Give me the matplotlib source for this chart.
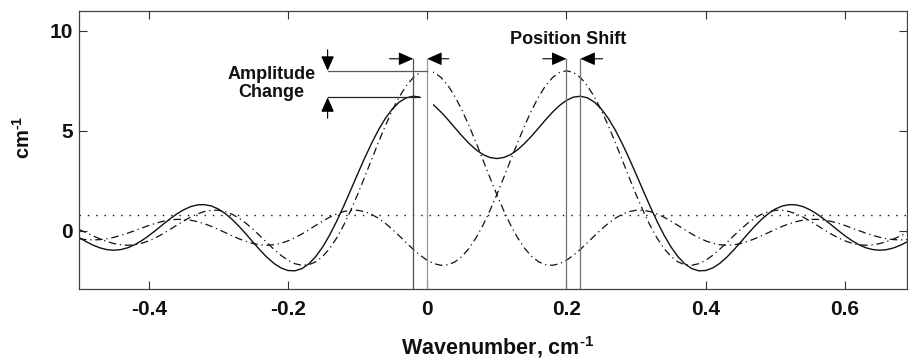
import matplotlib
matplotlib.use('Agg')
import matplotlib.pyplot as plt
from matplotlib.patches import Rectangle

plt.rcParams['font.family'] = ['Liberation Sans', 'DejaVu Sans']
plt.rcParams['font.weight'] = 'bold'
plt.rcParams['mathtext.fontset'] = 'custom'
plt.rcParams['mathtext.rm'] = 'Liberation Sans:bold'
plt.rcParams['mathtext.bf'] = 'Liberation Sans:bold'
plt.rcParams['mathtext.it'] = 'Liberation Sans:bold'
plt.rcParams['mathtext.default'] = 'bf'

# ---------------- data ----------------
wavenumber = [
    -0.50, -0.49, -0.48, -0.47, -0.46, -0.45, -0.44, -0.43, -0.42, -0.41,
    -0.40, -0.39, -0.38, -0.37, -0.36, -0.35, -0.34, -0.33, -0.32, -0.31,
    -0.30, -0.29, -0.28, -0.27, -0.26, -0.25, -0.24, -0.23, -0.22, -0.21,
    -0.20, -0.19, -0.18, -0.17, -0.16, -0.15, -0.14, -0.13, -0.12, -0.11,
    -0.10, -0.09, -0.08, -0.07, -0.06, -0.05, -0.04, -0.03, -0.02, -0.01,
    0.00, 0.01, 0.02, 0.03, 0.04, 0.05, 0.06, 0.07, 0.08, 0.09,
    0.10, 0.11, 0.12, 0.13, 0.14, 0.15, 0.16, 0.17, 0.18, 0.19,
    0.20, 0.21, 0.22, 0.23, 0.24, 0.25, 0.26, 0.27, 0.28, 0.29,
    0.30, 0.31, 0.32, 0.33, 0.34, 0.35, 0.36, 0.37, 0.38, 0.39,
    0.40, 0.41, 0.42, 0.43, 0.44, 0.45, 0.46, 0.47, 0.48, 0.49,
    0.50, 0.51, 0.52, 0.53, 0.54, 0.55, 0.56, 0.57, 0.58, 0.59,
    0.60, 0.61, 0.62, 0.63, 0.64, 0.65, 0.66, 0.67, 0.68, 0.69,
]

line_a = [  # component centred at 0
    0.064, -0.098, -0.259, -0.411, -0.543, -0.645, -0.709, -0.731, -0.705, -0.632,
    -0.514, -0.357, -0.167, 0.043, 0.263, 0.477, 0.673, 0.837, 0.955, 1.019,
    1.019, 0.952, 0.817, 0.619, 0.364, 0.064, -0.265, -0.605, -0.935, -1.234,
    -1.481, -1.653, -1.734, -1.707, -1.561, -1.289, -0.889, -0.368, 0.266, 0.997,
    1.804, 2.662, 3.544, 4.419, 5.256, 6.026, 6.699, 7.252, 7.662, 7.915,
    8.000, 7.915, 7.662, 7.252, 6.699, 6.026, 5.256, 4.419, 3.544, 2.662,
    1.804, 0.997, 0.266, -0.368, -0.889, -1.289, -1.561, -1.707, -1.734, -1.653,
    -1.481, -1.234, -0.935, -0.605, -0.265, 0.064, 0.364, 0.619, 0.817, 0.952,
    1.019, 1.019, 0.955, 0.837, 0.673, 0.477, 0.263, 0.043, -0.167, -0.357,
    -0.514, -0.632, -0.705, -0.731, -0.709, -0.645, -0.543, -0.411, -0.259, -0.098,
    0.064, 0.215, 0.347, 0.452, 0.525, 0.562, 0.563, 0.529, 0.462, 0.369,
    0.255, 0.130, 0.000, -0.126, -0.239, -0.335, -0.406, -0.450, -0.464, -0.448,
]

line_b = [  # component centred at 0.2
    -0.405, -0.448, -0.464, -0.450, -0.406, -0.335, -0.239, -0.126, 0.000, 0.130,
    0.255, 0.369, 0.462, 0.529, 0.563, 0.562, 0.525, 0.452, 0.347, 0.215,
    0.064, -0.098, -0.259, -0.411, -0.543, -0.645, -0.709, -0.731, -0.705, -0.632,
    -0.514, -0.357, -0.167, 0.043, 0.263, 0.477, 0.673, 0.837, 0.955, 1.019,
    1.019, 0.952, 0.817, 0.619, 0.364, 0.064, -0.265, -0.605, -0.935, -1.234,
    -1.481, -1.653, -1.734, -1.707, -1.561, -1.289, -0.889, -0.368, 0.266, 0.997,
    1.804, 2.662, 3.544, 4.419, 5.256, 6.026, 6.699, 7.252, 7.662, 7.915,
    8.000, 7.915, 7.662, 7.252, 6.699, 6.026, 5.256, 4.419, 3.544, 2.662,
    1.804, 0.997, 0.266, -0.368, -0.889, -1.289, -1.561, -1.707, -1.734, -1.653,
    -1.481, -1.234, -0.935, -0.605, -0.265, 0.064, 0.364, 0.619, 0.817, 0.952,
    1.019, 1.019, 0.955, 0.837, 0.673, 0.477, 0.263, 0.043, -0.167, -0.357,
    -0.514, -0.632, -0.705, -0.731, -0.709, -0.645, -0.543, -0.411, -0.259, -0.098,
]

combined = [  # observed (solid) curve
    -0.341, -0.546, -0.723, -0.861, -0.949, -0.980, -0.948, -0.857, -0.705, -0.502,
    -0.259, 0.012, 0.295, 0.572, 0.826, 1.039, 1.198, 1.289, 1.302, 1.234,
    1.083, 0.854, 0.558, 0.208, -0.179, -0.581, -0.974, -1.336, -1.640, -1.866,
    -1.995, -2.010, -1.901, -1.664, -1.298, -0.812, -0.216, 0.469, 1.221, 2.016,
    2.823, 3.614, 4.361, 5.038, 5.620, 6.090, 6.434, 6.647, 6.727, 6.681,
    6.519, 6.262, 5.928, 5.545, 5.138, 4.737, 4.367, 4.051, 3.810, 3.659,
    3.608, 3.659, 3.810, 4.051, 4.367, 4.737, 5.138, 5.545, 5.928, 6.262,
    6.519, 6.681, 6.727, 6.647, 6.434, 6.090, 5.620, 5.038, 4.361, 3.614,
    2.823, 2.016, 1.221, 0.469, -0.216, -0.812, -1.298, -1.664, -1.901, -2.010,
    -1.995, -1.866, -1.640, -1.336, -0.974, -0.581, -0.179, 0.208, 0.558, 0.854,
    1.083, 1.234, 1.302, 1.289, 1.198, 1.039, 0.826, 0.572, 0.295, 0.012,
    -0.259, -0.502, -0.705, -0.857, -0.948, -0.980, -0.949, -0.861, -0.723, -0.546,
]

threshold = 0.8
xticks = [-0.4, -0.2, 0.0, 0.2, 0.4, 0.6]
xtick_labels = ['-0.4', '-0.2', '0', '0.2', '0.4', '0.6']
yticks = [0, 5, 10]
ytick_labels = ['0', '5', '10']
true_positions = [0.0, 0.2]
measured_positions = [-0.02, 0.22]
true_amplitude = 8.0
measured_amplitude = 6.67

# ---------------- figure ----------------
fig = plt.figure(figsize=(9.08, 3.58), dpi=100)
ax = fig.add_axes([79 / 908, 69 / 358, 828 / 908, 278 / 358])
xmin, xmax, ymin, ymax = -0.5, 0.689, -2.92, 10.99
ax.set_xlim(xmin, xmax)
ax.set_ylim(ymin, ymax)

ink = '#111111'
ax.plot(wavenumber, combined, color=ink, lw=1.0, zorder=2)
ax.plot(wavenumber, line_a, color=ink, lw=0.9, dashes=(6, 3, 1, 3), zorder=2)
ax.plot(wavenumber, line_b, color=ink, lw=0.9, dashes=(6, 3, 1, 3), zorder=2)
ax.axhline(threshold, color=ink, lw=1.0, dashes=(1, 5), zorder=2)

# white gap between the two first markers
ax.add_patch(Rectangle((-0.011, 5.9), 0.019, 2.4, facecolor='white',
                       edgecolor='none', zorder=3))

arrow_y = 8.6
vcolors = ['0.6', '0.45']
mcolors = ['0.3', '0.45']
for tp, mp, vc, mc in zip(true_positions, measured_positions, vcolors, mcolors):
    ax.plot([mp, mp], [ymin, arrow_y], color=mc, lw=0.9, zorder=4)
    ax.plot([tp, tp], [ymin, arrow_y], color=vc, lw=0.9, zorder=4)

ap = dict(arrowstyle='-|>,head_length=0.9,head_width=0.4', mutation_scale=10,
          lw=0.8, color='black', shrinkA=0, shrinkB=0)
# position markers
ax.annotate('', xy=(measured_positions[0], arrow_y), xytext=(-0.054, arrow_y), arrowprops=ap, zorder=5)
ax.annotate('', xy=(true_positions[0], arrow_y), xytext=(0.031, arrow_y), arrowprops=ap, zorder=5)
ax.annotate('', xy=(true_positions[1], arrow_y), xytext=(0.166, arrow_y), arrowprops=ap, zorder=5)
ax.annotate('', xy=(measured_positions[1], arrow_y), xytext=(0.252, arrow_y), arrowprops=ap, zorder=5)

# amplitude markers
ax.plot([-0.143, true_positions[0]], [true_amplitude, true_amplitude], color='0.35', lw=0.9, zorder=4)
ax.plot([-0.143, -0.01], [measured_amplitude, measured_amplitude], color='0.15', lw=0.9, zorder=4)
ax.annotate('', xy=(-0.143, true_amplitude), xytext=(-0.143, 9.05), arrowprops=ap, zorder=5)
ax.annotate('', xy=(-0.143, measured_amplitude), xytext=(-0.143, 5.62), arrowprops=ap, zorder=5)

ax.text(-0.224, 7.35, 'Amplitude\nChange', ha='center', va='center', fontsize=13,
        fontweight='bold', linespacing=1.1, color=ink)
ax.text(0.203, 9.57, 'Position Shift', ha='center', va='center', fontsize=13,
        fontweight='bold', color=ink)

ax.set_xticks(xticks)
ax.set_xticklabels(xtick_labels)
ax.set_yticks(yticks)
ax.set_yticklabels(ytick_labels)
ax.tick_params(axis='both', direction='in', length=6, width=0.8, colors='0.2',
               labelcolor=ink, top=True, right=True, labelsize=15)
ax.tick_params(axis='x', pad=8)
ax.tick_params(axis='y', pad=4.5)
for s in ax.spines.values():
    s.set_color('0.25')
    s.set_linewidth(0.9)

fig.text(498 / 908, 1 - 354 / 358, r'Wavenumber, cm$^{\text{-}1}$', ha='center', va='baseline',
         fontsize=15.5, fontweight='bold', color=ink)
fig.text(23 / 908, 1 - 137 / 358, r'cm$^{\text{-}1}$', ha='center', va='center', rotation=90,
         fontsize=14.5, fontweight='bold', color=ink)

fig.savefig('out.png', dpi=100, facecolor='white')
